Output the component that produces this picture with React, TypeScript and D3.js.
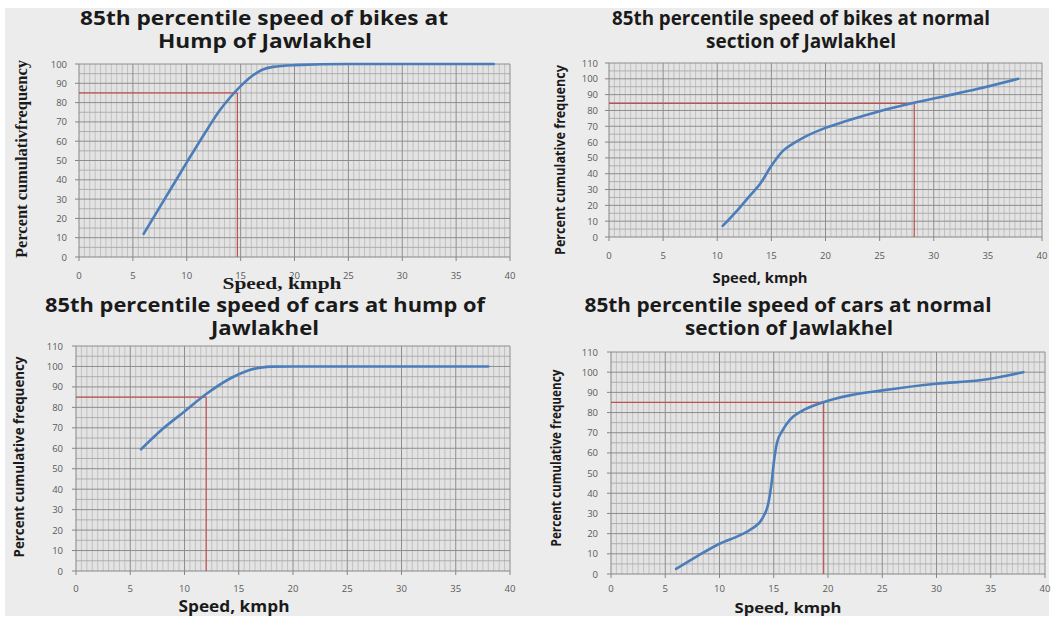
import React from "react";
import * as d3 from "d3";

// ---- Data: cumulative speed distributions (speed in kmph, percent cumulative frequency) ----
const speedTicks = [0, 5, 10, 15, 20, 25, 30, 35, 40];
const pctTicks100 = [0, 10, 20, 30, 40, 50, 60, 70, 80, 90, 100];
const pctTicks110 = [0, 10, 20, 30, 40, 50, 60, 70, 80, 90, 100, 110];

const bikeHumpSpeed = [6, 8, 10, 12, 13, 14, 15, 16, 17, 18, 20, 25, 30, 35, 38.5];
const bikeHumpPct = [12, 30.5, 49, 67, 75.5, 82.5, 88.5, 93.5, 97, 98.5, 99.4, 100, 100, 100, 100];

const bikeNormalSpeed = [10.5, 12, 13, 14, 15, 16, 17, 18, 20, 22, 25, 28, 31, 34, 37.8];
const bikeNormalPct = [7, 18, 26, 34, 45, 54, 59, 63, 69, 73.5, 79.5, 84.5, 89, 93.5, 100];

const carHumpSpeed = [6, 8, 10, 12, 14, 15, 16, 17, 18, 20, 25, 30, 38];
const carHumpPct = [59.5, 69.5, 78, 86.5, 93.5, 96.2, 98.3, 99.4, 99.9, 100, 100, 100, 100];

const carNormalSpeed = [6, 8, 10, 12, 13, 14, 14.5, 14.8, 15, 15.3, 15.8, 16.5, 17.5, 19.5, 22, 25, 30, 34, 38];
const carNormalPct = [2.5, 9, 15, 19.5, 22.5, 28, 35, 45, 55, 65, 71, 76.5, 80.5, 85, 88.5, 91, 94.3, 96, 100];

// 85th percentile read-offs
const p85Speeds = [14.7, 28.2, 12, 19.6];
const p85Pcts = [85, 84.5, 85, 85];

const titles = [
  ["85th percentile speed of bikes at", "Hump of Jawlakhel"],
  ["85th percentile speed of bikes at normal", "section of Jawlakhel"],
  ["85th percentile speed of cars at hump of", "Jawlakhel"],
  ["85th percentile speed of cars at normal", "section of Jawlakhel"],
];
const yLabels = [
  "Percent cumulativfrequency",
  "Percent cumulative frequency",
  "Percent cumulative frequency",
  "Percent cumulative frequency",
];
const xLabel = "Speed, kmph";

const SANS = "'Open Sans', 'Noto Sans', sans-serif";
const SERIF = "'Liberation Serif', 'DejaVu Serif', serif";

type TextSpec = { x: number; y: number; len: number; size: number; font: string };

type PanelProps = {
  left: number;
  right: number;
  top: number;
  bottom: number;
  yMax: number;
  yTicks: number[];
  speeds: number[];
  pcts: number[];
  refSpeed: number;
  refPct: number;
  title: string[];
  titlePos: TextSpec[];
  yLabel: string;
  yLabelPos: TextSpec;
  xLabelPos: TextSpec;
  yTickX: number;
  xTickY: number;
};

function Panel(p: PanelProps) {
  const x = d3.scaleLinear().domain([0, 40]).range([p.left, p.right]);
  const y = d3.scaleLinear().domain([0, p.yMax]).range([p.bottom, p.top]);
  const pts = p.speeds.map((s, i) => [s, p.pcts[i]] as [number, number]);
  const line = d3
    .line<[number, number]>()
    .x((d) => x(d[0]))
    .y((d) => y(d[1]))
    .curve(d3.curveMonotoneX);

  const minorX = d3.range(0, 40.01, 0.5).filter((v) => Math.abs(v % 5) > 1e-6);
  const majorX = d3.range(5, 40.01, 5);
  const minorY = d3.range(5, p.yMax + 0.01, 10);
  const majorY = d3.range(10, p.yMax + 0.01, 10);

  return (
    <g>
      {p.title.map((t, i) => (
        <text
          key={i}
          x={p.titlePos[i].x}
          y={p.titlePos[i].y}
          textAnchor="middle"
          fontFamily={p.titlePos[i].font}
          fontWeight={700}
          fontSize={p.titlePos[i].size}
          fill="#1a1a1a"
          textLength={p.titlePos[i].len}
          lengthAdjust="spacingAndGlyphs"
        >
          {t}
        </text>
      ))}

      <rect x={p.left} y={p.top} width={p.right - p.left} height={p.bottom - p.top} fill="#e3e3e3" />
      {minorX.map((v) => (
        <line key={"mx" + v} x1={x(v)} x2={x(v)} y1={p.top} y2={p.bottom} stroke="#b9b9b9" strokeWidth={0.8} />
      ))}
      {minorY.map((v) => (
        <line key={"my" + v} x1={p.left} x2={p.right} y1={y(v)} y2={y(v)} stroke="#a9a9a9" strokeWidth={0.9} />
      ))}
      {majorX.map((v) => (
        <line key={"Mx" + v} x1={x(v)} x2={x(v)} y1={p.top} y2={p.bottom} stroke="#8e8e8e" strokeWidth={1} />
      ))}
      {majorY.map((v) => (
        <line key={"My" + v} x1={p.left} x2={p.right} y1={y(v)} y2={y(v)} stroke="#8e8e8e" strokeWidth={1} />
      ))}

      {/* axes */}
      <line x1={p.left} x2={p.left} y1={p.top} y2={p.bottom} stroke="#868686" strokeWidth={1} />
      <line x1={p.left} x2={p.right} y1={p.bottom} y2={p.bottom} stroke="#868686" strokeWidth={1} />
      {p.yTicks.map((v) => (
        <g key={"yt" + v}>
          <line x1={p.left - 4} x2={p.left} y1={y(v)} y2={y(v)} stroke="#868686" />
          <text
            x={p.yTickX}
            y={y(v) + 3.5}
            textAnchor="end"
            fontFamily={SANS}
            fontSize={9.5}
            fill="#5a5a5a"
          >
            {v}
          </text>
        </g>
      ))}
      {speedTicks.map((v) => (
        <g key={"xt" + v}>
          <line x1={x(v)} x2={x(v)} y1={p.bottom} y2={p.bottom + 4} stroke="#868686" />
          <text x={x(v)} y={p.xTickY} textAnchor="middle" fontFamily={SANS} fontSize={9.5} fill="#5a5a5a">
            {v}
          </text>
        </g>
      ))}

      {/* 85th percentile guide lines */}
      <line x1={x(0)} x2={x(p.refSpeed)} y1={y(p.refPct)} y2={y(p.refPct)} stroke="#c0504d" strokeWidth={1.2} />
      <line x1={x(p.refSpeed)} x2={x(p.refSpeed)} y1={y(0)} y2={y(p.refPct)} stroke="#c0504d" strokeWidth={1.2} />

      {/* cumulative curve */}
      <path d={line(pts) || ""} fill="none" stroke="#4a7dba" strokeWidth={2.6} strokeLinecap="round" />

      <text
        transform={`translate(${p.yLabelPos.x},${p.yLabelPos.y}) rotate(-90)`}
        textAnchor="middle"
        fontFamily={p.yLabelPos.font}
        fontWeight={700}
        fontSize={p.yLabelPos.size}
        fill="#1a1a1a"
        textLength={p.yLabelPos.len}
        lengthAdjust="spacingAndGlyphs"
      >
        {p.yLabel}
      </text>
      <text
        x={p.xLabelPos.x}
        y={p.xLabelPos.y}
        textAnchor="middle"
        fontFamily={p.xLabelPos.font}
        fontWeight={700}
        fontSize={p.xLabelPos.size}
        fill="#1a1a1a"
        textLength={p.xLabelPos.len}
        lengthAdjust="spacingAndGlyphs"
      >
        {xLabel}
      </text>
    </g>
  );
}

export default function App() {
  const panels: PanelProps[] = [
    {
      left: 79, right: 510, top: 64, bottom: 257, yMax: 100, yTicks: pctTicks100,
      speeds: bikeHumpSpeed, pcts: bikeHumpPct, refSpeed: p85Speeds[0], refPct: p85Pcts[0],
      title: titles[0],
      titlePos: [
        { x: 264, y: 25, len: 368, size: 19, font: SANS },
        { x: 265, y: 48, len: 214, size: 19, font: SANS },
      ],
      yLabel: yLabels[0],
      yLabelPos: { x: 27, y: 159, len: 198, size: 16, font: SERIF },
      xLabelPos: { x: 282, y: 289, len: 119, size: 17, font: SERIF },
      yTickX: 67, xTickY: 279,
    },
    {
      left: 609, right: 1042, top: 63, bottom: 237, yMax: 110, yTicks: pctTicks110,
      speeds: bikeNormalSpeed, pcts: bikeNormalPct, refSpeed: p85Speeds[1], refPct: p85Pcts[1],
      title: titles[1],
      titlePos: [
        { x: 801, y: 25, len: 378, size: 19, font: SANS },
        { x: 801, y: 48, len: 190, size: 19, font: SANS },
      ],
      yLabel: yLabels[1],
      yLabelPos: { x: 565, y: 160, len: 190, size: 14, font: SANS },
      xLabelPos: { x: 760, y: 283, len: 95, size: 14, font: SANS },
      yTickX: 598, xTickY: 259,
    },
    {
      left: 76, right: 510, top: 346, bottom: 571, yMax: 110, yTicks: pctTicks110,
      speeds: carHumpSpeed, pcts: carHumpPct, refSpeed: p85Speeds[2], refPct: p85Pcts[2],
      title: titles[2],
      titlePos: [
        { x: 265, y: 312, len: 440, size: 19, font: SANS },
        { x: 265, y: 335, len: 108, size: 19, font: SANS },
      ],
      yLabel: yLabels[2],
      yLabelPos: { x: 24, y: 457, len: 201, size: 15, font: SANS },
      xLabelPos: { x: 234, y: 612, len: 111, size: 15.5, font: SANS },
      yTickX: 63, xTickY: 592,
    },
    {
      left: 611, right: 1045, top: 352, bottom: 574, yMax: 110, yTicks: pctTicks110,
      speeds: carNormalSpeed, pcts: carNormalPct, refSpeed: p85Speeds[3], refPct: p85Pcts[3],
      title: titles[3],
      titlePos: [
        { x: 788, y: 312, len: 407, size: 19, font: SANS },
        { x: 789, y: 335, len: 208, size: 19, font: SANS },
      ],
      yLabel: yLabels[3],
      yLabelPos: { x: 561, y: 458, len: 177, size: 13.5, font: SANS },
      xLabelPos: { x: 788, y: 613, len: 107, size: 15, font: SANS },
      yTickX: 598, xTickY: 592,
    },
  ];

  return (
    <svg
      width={1055}
      height={619}
      style={{ position: "absolute", left: 0, top: 0, display: "block" }}
    >
      <rect x={0} y={0} width={1055} height={619} fill="#ffffff" />
      <rect x={5} y={8} width={1044} height={608} fill="#ececec" />
      {panels.map((p, i) => (
        <Panel key={i} {...p} />
      ))}
    </svg>
  );
}
